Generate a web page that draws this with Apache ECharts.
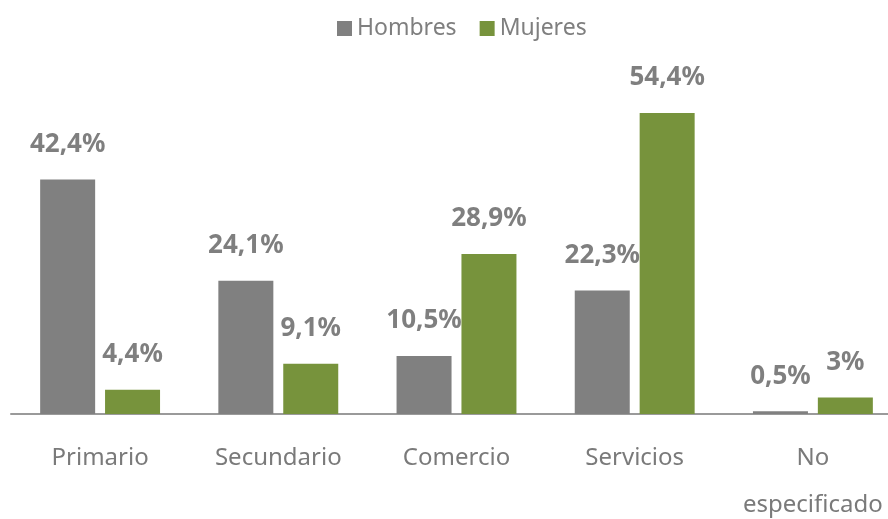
<!DOCTYPE html>
<html><head><meta charset="utf-8">
<script src="https://cdn.jsdelivr.net/npm/echarts@6/dist/echarts.min.js"></script>
<style>html,body{margin:0;padding:0;background:#fff}#c{width:888px;height:519px}</style>
</head><body><div id="c"></div>
<script>
const categories = ['Primario', 'Secundario', 'Comercio', 'Servicios', 'No\nespecificado'];
const hombres = [42.4, 24.1, 10.5, 22.3, 0.5];
const mujeres = [4.4, 9.1, 28.9, 54.4, 3];
const seriesNames = ['Hombres', 'Mujeres'];

const fmt = p => String(p.value).replace('.', ',') + '%';
const labelStyle = {
  show: true, position: 'top', distance: 22, formatter: fmt,
  color: '#7f7f7f', fontSize: 26, fontWeight: 'bold', fontFamily: 'Noto Sans'
};
const chart = echarts.init(document.getElementById('c'), null, {renderer: 'canvas'});
chart.setOption({
  animation: false,
  textStyle: {fontFamily: 'Noto Sans'},
  legend: {
    top: 12, left: 332, itemWidth: 15, itemHeight: 15, itemGap: 23,
    icon: 'rect',
    textStyle: {color: '#7f7f7f', fontSize: 23, fontFamily: 'Noto Sans'},
    data: seriesNames
  },
  grid: {left: 11, right: -14, top: 82, bottom: 105, outerBoundsMode: 'none', containLabel: false},
  xAxis: {
    type: 'category', data: categories,
    axisLine: {lineStyle: {color: '#9a9a9a', width: 2}},
    axisTick: {show: false},
    axisLabel: {color: '#7a7a7a', fontSize: 24, margin: 21, lineHeight: 47, interval: 0}
  },
  yAxis: {
    type: 'value', min: 0, max: 60, show: false,
    splitLine: {show: false}
  },
  series: [
    {name: seriesNames[0], type: 'bar', data: hombres, barWidth: 55, barGap: '18%',
     itemStyle: {color: '#808080'}, label: labelStyle},
    {name: seriesNames[1], type: 'bar', data: mujeres, barWidth: 55,
     itemStyle: {color: '#77933c'}, label: labelStyle}
  ]
});
</script></body></html>
